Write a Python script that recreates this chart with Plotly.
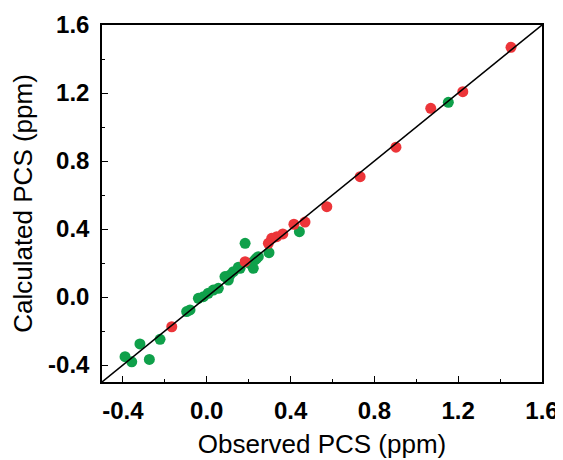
import plotly.graph_objects as go

red_obs = [1.452, 1.222, 1.069, 0.903, 0.732, 0.573, 0.469, 0.416, 0.363, 0.334, 0.310, 0.294, 0.183, -0.167]
red_calc = [1.469, 1.208, 1.110, 0.881, 0.708, 0.531, 0.441, 0.428, 0.371, 0.355, 0.345, 0.316, 0.208, -0.175]

green_obs = [1.153, 0.442, 0.297, 0.183, 0.238, 0.222, 0.159, 0.111, 0.103, 0.055, 0.031, 0.007,
             -0.016, -0.040, -0.080, -0.096, -0.223, -0.319, -0.390, -0.358, -0.274,
             0.087, 0.127, 0.151, 0.206, 0.230, 0.246]
green_calc = [1.145, 0.384, 0.261, 0.316, 0.228, 0.169, 0.169, 0.129, 0.100, 0.051, 0.041, 0.022,
              0.002, -0.008, -0.076, -0.086, -0.249, -0.276, -0.351, -0.381, -0.367,
              0.120, 0.149, 0.175, 0.198, 0.218, 0.237]

diag = [-0.5, 1.6]
tickvals = [-0.4, 0.0, 0.4, 0.8, 1.2, 1.6]
ticktext = ["-0.4", "0.0", "0.4", "0.8", "1.2", "1.6"]

fig = go.Figure()
fig.add_trace(go.Scatter(x=green_obs, y=green_calc, mode="markers",
                         marker=dict(color="#0FA04A", size=11, line=dict(width=0)), showlegend=False))
fig.add_trace(go.Scatter(x=red_obs, y=red_calc, mode="markers",
                         marker=dict(color="#EC3539", size=11, line=dict(width=0)), showlegend=False))
fig.add_trace(go.Scatter(x=diag, y=diag, mode="lines", line=dict(color="black", width=1.5),
                         showlegend=False, hoverinfo="skip"))

axis_common = dict(
    range=[-0.5, 1.6], tickvals=tickvals, ticktext=ticktext, automargin=False,
    showgrid=False, zeroline=False, showline=True, linecolor="black", linewidth=1.5,
    mirror=True, ticks="inside", ticklen=6, tickwidth=1.2, tickcolor="black",
    tickfont=dict(family="Liberation Sans, Arial", size=24, color="black", weight="bold"),
    minor=dict(ticks="inside", ticklen=3, tickwidth=1, tickcolor="black", dtick=0.2, tick0=0),
)

# The page places the figure 8px from the top-left corner of the window
fig.update_layout(
    width=555, height=452,
    margin=dict(l=94, r=21, t=17, b=78),
    paper_bgcolor="white", plot_bgcolor="white",
    xaxis=dict(**axis_common, ticklabelstandoff=6,
               title=dict(text="Observed PCS (ppm)", standoff=12,
               font=dict(family="Liberation Sans, Arial", size=26, color="black"))),
    yaxis=dict(**axis_common, ticklabelstandoff=6,
               title=dict(text="Calculated PCS (ppm)", standoff=12,
               font=dict(family="Liberation Sans, Arial", size=26, color="black"))),
)
fig.write_html("out.html")
